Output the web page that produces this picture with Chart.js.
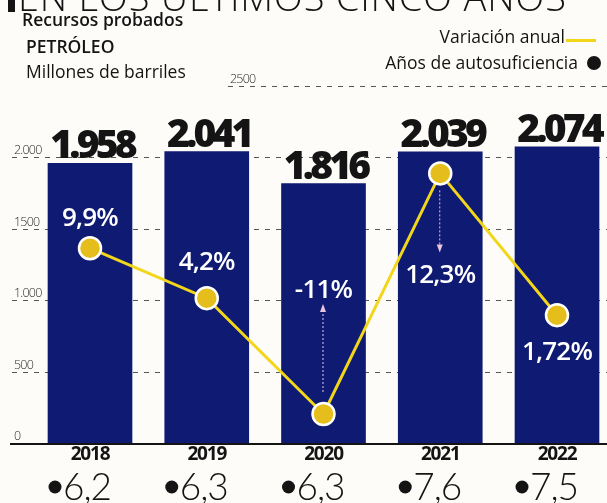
<!DOCTYPE html>
<html><head><meta charset="utf-8">
<script src="https://cdn.jsdelivr.net/npm/chart.js@4/dist/chart.umd.min.js"></script>
<style>
html,body{margin:0;padding:0;background:#fdfcf8;}
#wrap{width:607px;height:503px;position:relative;}
</style></head>
<body><div id="wrap"><canvas id="c" width="607" height="503"></canvas></div>
<script>
// ---- data ----
const years = ['2018', '2019', '2020', '2021', '2022'];
const reserves = [1958, 2041, 1816, 2039, 2074];            // millones de barriles
const reserveLabels = ['1.958', '2.041', '1.816', '2.039', '2.074'];
const variationLabels = ['9,9%', '4,2%', '-11%', '12,3%', '1,72%'];
const variationLevel = [1364, 1014, 203, 1888, 895];        // height of the line points as drawn
const selfSufficiency = ['6,2', '6,3', '6,3', '7,6', '7,5']; // años de autosuficiencia
const yTicks = [0, 500, 1000, 1500, 2000, 2500];
const yTickLabels = ['0', '500', '1.000', '1500', '2.000', '2500'];

// ---- styling ----
const NAVY = '#0f1a72';
const YELLOW = '#f2d61a';
const INK = '#141414';
const labelDy = [-30, -36, -123, 102, 37];
const arrows = [null, null, 'up', 'down', null];

const decor = {
  id: 'decor',
  beforeDatasetsDraw(chart) {
    const ctx = chart.ctx, y = chart.scales.y;
    ctx.save();
    // header
    ctx.fillStyle = INK;
    ctx.fillRect(8, 0, 7, 12);
    ctx.font = '300 38px "Open Sans"';
    const title = 'EN LOS ÚLTIMOS CINCO AÑOS';
    ctx.letterSpacing = '0px';
    const w = ctx.measureText(title).width;
    ctx.letterSpacing = ((548 - w) / (title.length - 1)).toFixed(2) + 'px';
    ctx.textBaseline = 'alphabetic';
    ctx.fillText(title, 18, 11);
    ctx.letterSpacing = '0px';
    ctx.font = '600 17.5px "Open Sans"';
    ctx.fillText('Recursos probados', 22, 26);
    ctx.fillText('PETRÓLEO', 26, 53);
    ctx.font = '400 17.5px "Open Sans"';
    ctx.fillText('Millones de barriles', 26, 78);
    ctx.textAlign = 'right';
    ctx.fillText('Variación anual', 565, 43);
    ctx.fillText('Años de autosuficiencia', 578, 69);
    ctx.fillStyle = YELLOW;
    ctx.fillRect(566, 39, 30, 3);
    ctx.fillStyle = INK;
    ctx.beginPath(); ctx.arc(594, 63, 7, 0, Math.PI * 2); ctx.fill();

    // grid lines + tick labels
    ctx.textAlign = 'left';
    ctx.font = '300 12.5px "Open Sans"';
    ctx.letterSpacing = '-0.8px';
    yTicks.forEach((v, i) => {
      const py = Math.round(y.getPixelForValue(v)) + 0.5;
      const x0 = v === 2500 ? 228 : 12;
      if (v > 0) {
        ctx.strokeStyle = '#555555';
        ctx.lineWidth = 1;
        ctx.setLineDash([5, 6]);
        ctx.beginPath(); ctx.moveTo(x0, py); ctx.lineTo(607, py); ctx.stroke();
        ctx.setLineDash([]);
      }
      ctx.fillStyle = '#2a2a2a';
      ctx.fillText(yTickLabels[i], x0 + 2, py - 4);
    });
    ctx.letterSpacing = '0px';
    ctx.restore();
  },
  afterDatasetDraw(chart, args) {
    if (args.index !== 0) return;
    const ctx = chart.ctx, x = chart.scales.x, y = chart.scales.y;
    ctx.save();
    // axis line
    const base = y.getPixelForValue(0);
    ctx.strokeStyle = INK; ctx.lineWidth = 2;
    ctx.beginPath(); ctx.moveTo(10, base + 1); ctx.lineTo(607, base + 1); ctx.stroke();
    // dotted arrows
    ctx.strokeStyle = '#e9c6dc'; ctx.fillStyle = '#e9c6dc'; ctx.lineWidth = 1;
    arrows.forEach((a, i) => {
      if (!a) return;
      const px = x.getPixelForValue(i) - 0.5;
      const py = y.getPixelForValue(variationLevel[i]);
      const ly = py + labelDy[i];
      let from, to;
      if (a === 'up') { from = py - 22; to = ly + 15; }
      else { from = py + 17; to = ly - 25; }
      ctx.setLineDash([2, 2]);
      ctx.beginPath(); ctx.moveTo(px, from); ctx.lineTo(px, to); ctx.stroke();
      ctx.setLineDash([]);
      const d = a === 'up' ? -1 : 1;
      ctx.beginPath(); ctx.moveTo(px, to + d * 2); ctx.lineTo(px - 3, to - d * 6); ctx.lineTo(px + 3, to - d * 6); ctx.closePath(); ctx.fill();
    });
    ctx.restore();
  },
  afterDatasetsDraw(chart) {
    const ctx = chart.ctx, x = chart.scales.x, y = chart.scales.y;
    ctx.save();
    ctx.textAlign = 'center';
    years.forEach((yr, i) => {
      const cx = x.getPixelForValue(i);
      // bar values
      ctx.fillStyle = INK;
      ctx.font = '800 39px "Open Sans"';
      ctx.letterSpacing = '-3.8px';
      ctx.textBaseline = 'alphabetic';
      ctx.fillText(reserveLabels[i], cx + 2, y.getPixelForValue(reserves[i]) - 5);
      // variation labels
      ctx.fillStyle = '#ffffff';
      ctx.font = '600 26px "Open Sans"';
      ctx.letterSpacing = '-0.8px';
      ctx.textBaseline = 'middle';
      ctx.fillText(variationLabels[i], cx, y.getPixelForValue(variationLevel[i]) + labelDy[i]);
      // years
      ctx.fillStyle = INK;
      ctx.font = '700 19px "Open Sans"';
      ctx.letterSpacing = '-1.2px';
      ctx.textBaseline = 'middle';
      ctx.fillText(yr, cx, 455);
      // self-sufficiency
      ctx.letterSpacing = '-1px';
      ctx.font = '300 37px Lato, "Open Sans"';
      ctx.textAlign = 'left';
      ctx.textBaseline = 'alphabetic';
      ctx.beginPath(); ctx.arc(cx - 35, 487, 6.5, 0, Math.PI * 2); ctx.fill();
      ctx.fillText(selfSufficiency[i], cx - 27, 500);
      ctx.textAlign = 'center';
    });
    ctx.restore();
  }
};

new Chart(document.getElementById('c'), {
  type: 'bar',
  data: {
    labels: years,
    datasets: [
      {
        type: 'bar', data: reserves, backgroundColor: NAVY, barThickness: 84,
        order: 1, clip: false
      },
      {
        type: 'line', data: variationLevel, borderColor: YELLOW, borderWidth: 3,
        pointRadius: 11, pointHoverRadius: 11, pointBackgroundColor: '#e6be1c',
        pointBorderColor: '#ffffff', pointBorderWidth: 2.5, tension: 0, order: 0, clip: false
      }
    ]
  },
  options: {
    responsive: false, animation: false, devicePixelRatio: 1,
    layout: { padding: { left: 90, right: 50, top: 86, bottom: 60 } },
    plugins: { legend: { display: false }, tooltip: { enabled: false } },
    scales: {
      x: { display: false, offset: false },
      y: { display: false, min: 0, max: 2500 }
    }
  },
  plugins: [decor]
});
</script></body></html>
